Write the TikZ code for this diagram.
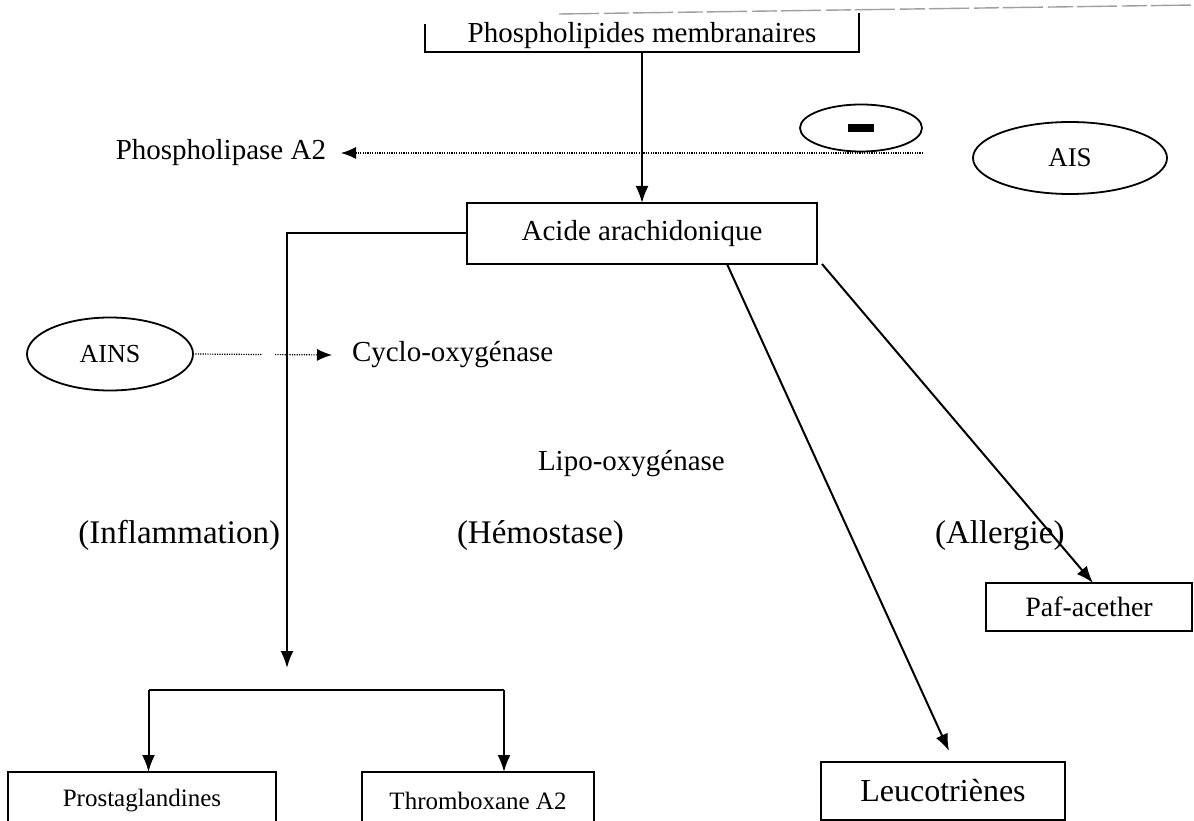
\documentclass[tikz,border=0pt]{standalone}
\usepackage{fontspec}
\setmainfont{Liberation Serif}
\usetikzlibrary{arrows.meta,shapes.geometric,calc}
\begin{document}
\begin{tikzpicture}[x=1pt,y=-1pt,
  every node/.style={inner sep=0pt, outer sep=0pt},
  box/.style={draw, line width=2pt, rectangle, align=center},
  oval/.style={draw, ellipse, line width=1.8pt},
  conn/.style={line width=2pt},
  arr/.style={line width=2pt, -{Latex[length=17pt,width=13pt]}},
  dotline/.style={line width=1.2pt, dash pattern=on 1.2pt off 1.2pt},
  dotarr/.style={dotline, -{Latex[length=15pt,width=12pt]}},
  fA/.style={font=\fontsize{29}{33}\selectfont},
  fB/.style={font=\fontsize{33}{37}\selectfont},
  fC/.style={font=\fontsize{25}{29}\selectfont},
  fD/.style={font=\fontsize{32}{36}\selectfont},
  fE/.style={font=\fontsize{28}{32}\selectfont},
  fAIS/.style={font=\fontsize{27}{31}\selectfont},
  fAINS/.style={font=\fontsize{26}{30}\selectfont}
]
\useasboundingbox (0,0) rectangle (1194,821);
\clip (0,0) rectangle (1194,821);

% Phospholipides membranaires (partly cut box)
\node[fA, minimum width=434pt, minimum height=32pt] (P) at (642,36) {Phospholipides membranaires};
\draw[conn] ([yshift=-4pt]P.north west) -- (P.south west) -- (P.south east) -- ([yshift=7pt]P.north east);
\coordinate (topR) at (1194,5);
\draw[gray!75, line width=1.4pt, dash pattern=on 40pt off 5pt on 25pt off 4pt] ([xshift=-300pt,yshift=6pt]P.north east) -- (topR);

% Acide arachidonique
\node[box, fA, minimum width=350pt, minimum height=61pt] (A) at (642,233.5) {Acide arachidonique};
\draw[arr] (P.south) -- (A.north);

% Phospholipase A2 / AIS
\node[fA, anchor=east, inner xsep=15pt] (PLA) at (341,153) {Phospholipase A2};
\node[oval, minimum width=122pt, minimum height=47pt] (M) at (861,128) {\rule[-4pt]{26pt}{8pt}};
\node[oval, fAIS, minimum width=194pt, minimum height=72pt] (AIS) at (1070,158) {AIS};
\coordinate (dotR) at (923,153);
\draw[dotarr] (dotR) -- (PLA.east);

% AINS / Cyclo-oxygenase
\node[oval, fAINS, minimum width=166pt, minimum height=73pt] (AINS) at (110,354) {AINS};
\node[fA, anchor=west, inner xsep=20pt] (COX) at (332,355) {Cyclo-oxygénase};
\draw[dotline] (AINS.east) -- ($(AINS.east)!0.5!(COX.west)$);
\draw[dotarr] ($(AINS.east)!0.59!(COX.west)$) -- (COX.west);

% Lipo-oxygenase and labels
\node[fA, anchor=base west] (LOX) at (538,470) {Lipo-oxygénase};
\node[fB, anchor=base east] (INF) at (280,543) {(Inflammation)};
\node[fB, anchor=base west] (HEM) at (457,543) {(Hémostase)};
\node[fB, anchor=base west] (ALL) at (935,543) {(Allergie)};

% cyclo-oxygenase branch
\coordinate (infl) at (287,668);
\draw[arr] (A.west) -| (infl);

% bottom boxes
\node[box, fC, minimum width=268pt, minimum height=58pt] (PG) at (142,801) {Prostaglandines};
\node[box, fC, minimum width=232pt, minimum height=58pt] (TX) at (478,801) {Thromboxane A2};
\node[box, fD, minimum width=244pt, minimum height=58pt] (LT) at (943,791) {Leucotriènes};
\node[box, fE, minimum width=206pt, minimum height=48pt] (PAF) at (1089,607) {Paf-acether};

\coordinate (brL) at (148.5,690);
\coordinate (brR) at (504,690);
\draw[conn] (brL) -- (brR);
\draw[arr] (brL) -- (brL |- PG.north);
\draw[arr] (brR) -- (brR |- TX.north);

\draw[arr] ([xshift=85pt]A.south) -- ([xshift=6pt,yshift=11pt]LT.north);
\draw[arr] ([xshift=5pt]A.south east) -- ([xshift=4pt]PAF.north);
\end{tikzpicture}
\end{document}
